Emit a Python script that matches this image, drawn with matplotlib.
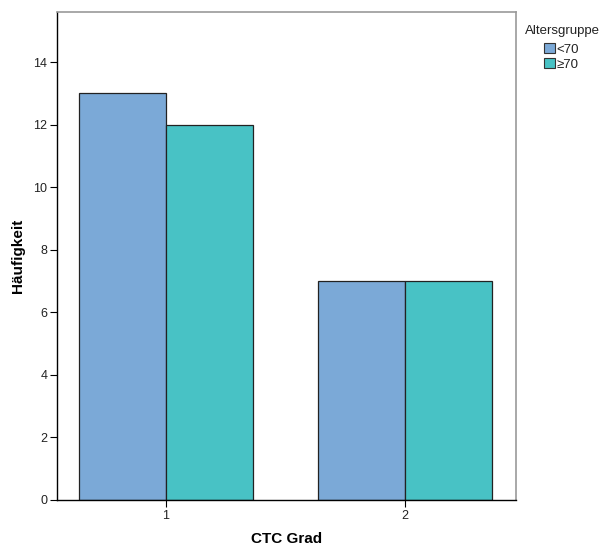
import numpy as np
import matplotlib.pyplot as plt
from matplotlib.patches import Patch

plt.rcParams["font.family"] = ["Liberation Sans", "DejaVu Sans"]

# Data
categories = ["1", "2"]
groups = ["<70", "≥70"]
counts_lt70 = [13, 7]
counts_ge70 = [12, 7]
colors = ["#7BA9D7", "#48C2C5"]

fig = plt.figure(figsize=(6.06, 5.49), dpi=100)
ax = fig.add_axes([57 / 606, 49 / 549, 459 / 606, 488 / 549])

x = np.arange(1, len(categories) + 1)
width = 0.364
ax.bar(x - width / 2, counts_lt70, width, color=colors[0], edgecolor="#222222", linewidth=0.9)
ax.bar(x + width / 2, counts_ge70, width, color=colors[1], edgecolor="#222222", linewidth=0.9)

ax.set_xlim(0.544, 2.464)
ax.set_ylim(0, 15.6)
ax.set_yticks(range(0, 15, 2))
ax.set_xticks(x)
ax.set_xticklabels(categories)
ax.tick_params(axis="both", labelsize=9, length=5, width=0.8, color="black",
               labelcolor="#222222", pad=2)

for side in ["top", "right"]:
    ax.spines[side].set_color("#999999")
    ax.spines[side].set_linewidth(1.2)
for side in ["left", "bottom"]:
    ax.spines[side].set_color("black")
    ax.spines[side].set_linewidth(1.0)

ax.set_xlabel("CTC Grad", fontsize=11, fontweight="bold")
ax.set_ylabel("Häufigkeit", fontsize=11, fontweight="bold")
ax.xaxis.set_label_coords(0.5, -32 / 488)
ax.yaxis.set_label_coords(-32 / 459, 0.5)

# legend: title on its own, entries indented below it
fig.text(525 / 606, 1 - 31 / 549, "Altersgruppe", fontsize=9.5, color="#222222",
         ha="left", va="center")
handles = [Patch(facecolor=c, edgecolor="#333333", linewidth=0.8) for c in colors]
leg = fig.legend(handles, groups, loc="upper left",
                 bbox_to_anchor=(544 / 606, 1 - 43 / 549), frameon=False,
                 fontsize=9.5, handlelength=0.8, handleheight=0.8,
                 handletextpad=0.15, labelspacing=0.2, borderpad=0,
                 borderaxespad=0)
for t in leg.get_texts():
    t.set_color("#222222")

fig.savefig("out.png", dpi=100)
